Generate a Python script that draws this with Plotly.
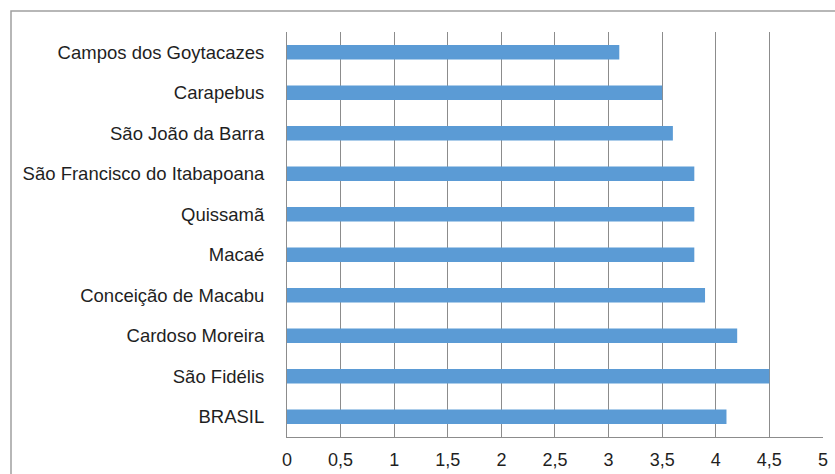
import plotly.graph_objects as go

categories = [
    "Campos dos Goytacazes",
    "Carapebus",
    "São João da Barra",
    "São Francisco do Itabapoana",
    "Quissamã",
    "Macaé",
    "Conceição de Macabu",
    "Cardoso Moreira",
    "São Fidélis",
    "BRASIL",
]
values = [3.1, 3.5, 3.6, 3.8, 3.8, 3.8, 3.9, 4.2, 4.5, 4.1]
x_ticks = [0, 0.5, 1, 1.5, 2, 2.5, 3, 3.5, 4, 4.5, 5]

W, H = 835, 474
ML, MR, MT, MB = 287, 12, 32, 37
pw = W - ML - MR
ph = H - MT - MB

fig = go.Figure(
    go.Bar(
        x=values,
        y=categories,
        orientation="h",
        marker=dict(color="#5b9bd5", line=dict(width=0)),
        width=0.36,
        hoverinfo="x+y",
    )
)

grid = "#8c8c8c"
fig.update_layout(
    width=W,
    height=H,
    margin=dict(l=ML, r=MR, t=MT, b=MB, pad=0, autoexpand=False),
    paper_bgcolor="white",
    plot_bgcolor="white",
    separators=", ",
    showlegend=False,
    font=dict(family="Liberation Sans, Arial, sans-serif", size=18, color="#1f1f1f"),
    xaxis=dict(
        range=[0, 5.0005],
        tickvals=x_ticks,
        showgrid=True,
        gridcolor=grid,
        gridwidth=1,
        zeroline=False,
        showline=True,
        linecolor=grid,
        linewidth=1,
        ticks="",
        ticklabelstandoff=6,
        automargin=False,
        fixedrange=True,
    ),
    yaxis=dict(
        categoryorder="array",
        categoryarray=categories,
        autorange="reversed",
        showgrid=False,
        zeroline=False,
        showline=True,
        linecolor=grid,
        linewidth=1,
        ticks="",
        ticklabelstandoff=18,
        tickfont=dict(size=18.5),
        automargin=False,
        fixedrange=True,
    ),
)

# outer chart border (offset from figure edge, running off right/bottom)
def px_to_paper_x(px):
    return (px - ML) / pw

def px_to_paper_y(py):
    return 1 - (py - MT) / ph

fig.add_shape(
    type="rect",
    xref="paper",
    yref="paper",
    x0=px_to_paper_x(11),
    x1=px_to_paper_x(W + 20),
    y0=px_to_paper_y(H + 20),
    y1=px_to_paper_y(11),
    line=dict(color="#a0a0a0", width=1.5),
    fillcolor="rgba(0,0,0,0)",
    layer="below",
)

fig.write_html("out.html")
